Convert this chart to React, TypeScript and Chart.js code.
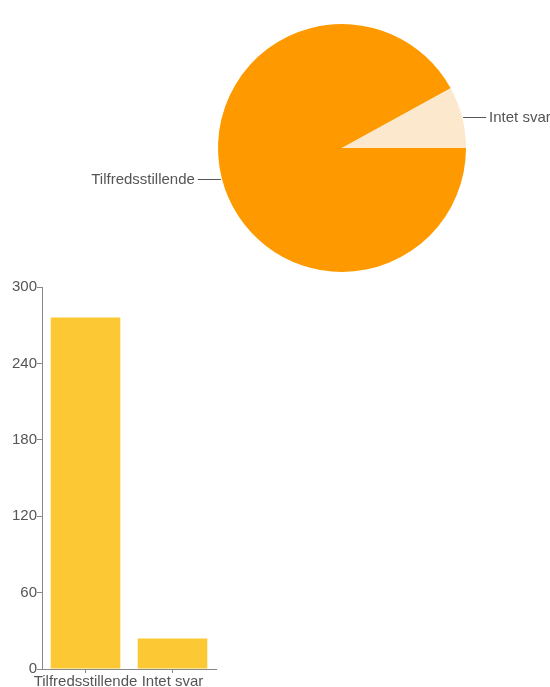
import React, { useEffect, useRef } from "react";
import { Chart, registerables } from "chart.js";

Chart.register(...registerables);

const categories = ["Tilfredsstillende", "Intet svar"];
const counts = [276, 24];
const yTicks = [0, 60, 120, 180, 240, 300];

const pieColors = ["#FF9900", "#FCE8CC"];
const barColor = "#FCC934";
const FONT = "'Liberation Sans', Arial, Helvetica, sans-serif";

const pieLabelPlugin = {
  id: "pieLabels",
  afterDraw(chart: any) {
    const ctx = chart.ctx;
    const meta = chart.getDatasetMeta(0);
    ctx.save();
    ctx.font = `15px ${FONT}`;
    ctx.fillStyle = "#555";
    ctx.strokeStyle = "#555";
    ctx.lineWidth = 1;
    ctx.textBaseline = "middle";
    meta.data.forEach((arc: any, i: number) => {
      const a = (arc.startAngle + arc.endAngle) / 2;
      const r = arc.outerRadius;
      const px = arc.x + Math.cos(a) * r;
      const py = Math.round(arc.y + Math.sin(a) * r) + 0.5;
      const right = Math.cos(a) >= 0;
      const dir = right ? 1 : -1;
      ctx.beginPath();
      ctx.moveTo(px + dir * 1, py);
      ctx.lineTo(px + dir * 24, py);
      ctx.stroke();
      ctx.textAlign = right ? "left" : "right";
      ctx.fillText(chart.data.labels[i], px + dir * 27, py);
    });
    ctx.restore();
  },
};

function PieChart() {
  const ref = useRef<HTMLCanvasElement>(null);
  useEffect(() => {
    const chart = new Chart(ref.current!, {
      type: "pie",
      data: {
        labels: categories,
        datasets: [
          {
            data: counts,
            backgroundColor: pieColors,
            borderWidth: 0,
          },
        ],
      },
      options: {
        responsive: false,
        animation: false,
        rotation: 90,
        layout: { padding: { left: 218, right: 84, top: 24, bottom: 28 } },
        plugins: { legend: { display: false }, tooltip: { enabled: false } },
      },
      plugins: [pieLabelPlugin],
    });
    return () => chart.destroy();
  }, []);
  return (
    <canvas
      ref={ref}
      width={550}
      height={300}
      style={{ position: "absolute", left: 0, top: 0, width: 550, height: 300 }}
    />
  );
}

function BarChart() {
  const ref = useRef<HTMLCanvasElement>(null);
  useEffect(() => {
    const chart = new Chart(ref.current!, {
      type: "bar",
      data: {
        labels: categories,
        datasets: [
          {
            data: counts,
            backgroundColor: barColor,
            borderWidth: 0,
            barPercentage: 0.8,
            categoryPercentage: 1.0,
          },
        ],
      },
      options: {
        responsive: false,
        animation: false,
        layout: { padding: { left: 0, right: 34, top: 17, bottom: 0 } },
        plugins: { legend: { display: false }, tooltip: { enabled: false } },
        scales: {
          x: {
            offset: true,
            grid: {
              offset: false,
              drawOnChartArea: false,
              drawTicks: true,
              tickLength: 4,
              color: "#888",
            },
            border: { display: true, color: "#888", width: 1 },
            ticks: {
              color: "#555",
              font: { family: FONT, size: 15 },
              padding: 0,
              maxRotation: 0,
              autoSkip: false,
            },
            afterFit(scale: any) {
              scale.height = 18;
            },
          },
          y: {
            min: 0,
            max: 300,
            afterBuildTicks(scale: any) {
              scale.ticks = yTicks.map((v) => ({ value: v }));
            },
            grid: {
              drawOnChartArea: false,
              drawTicks: true,
              tickLength: 5,
              color: "#888",
            },
            border: { display: true, color: "#888", width: 1 },
            ticks: {
              color: "#555",
              font: { family: FONT, size: 15 },
              padding: 0,
            },
            afterFit(scale: any) {
              scale.width = 42;
            },
          },
        },
      },
    });
    return () => chart.destroy();
  }, []);
  return (
    <canvas
      ref={ref}
      width={250}
      height={417}
      style={{ position: "absolute", left: 0, top: 270, width: 250, height: 417 }}
    />
  );
}

export default function App() {
  return (
    <div
      style={{
        position: "absolute",
        left: 0,
        top: 0,
        width: 550,
        height: 687,
        background: "#fff",
        overflow: "hidden",
      }}
    >
      <PieChart />
      <BarChart />
    </div>
  );
}
